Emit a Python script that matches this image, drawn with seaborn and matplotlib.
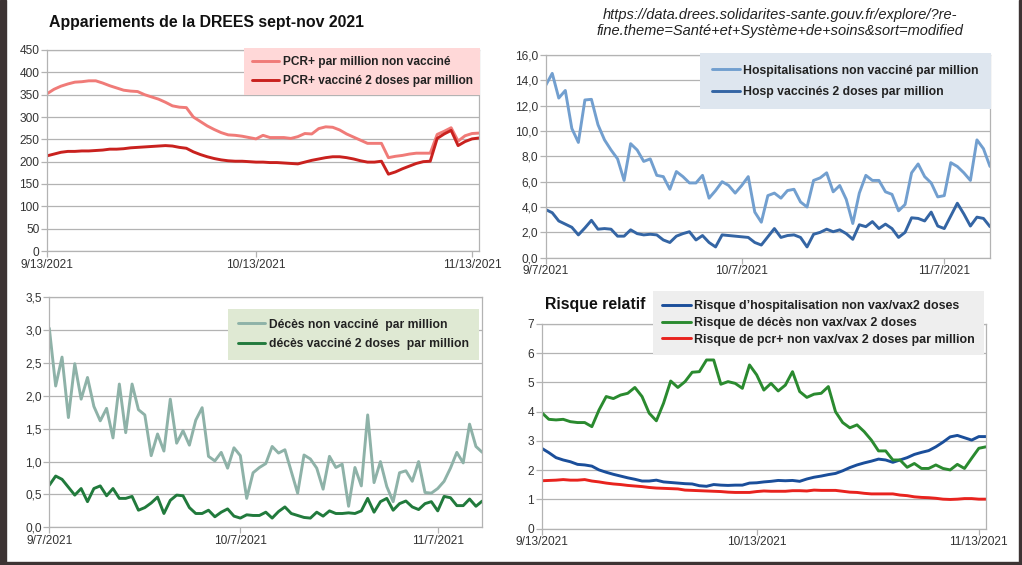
import matplotlib
matplotlib.use("Agg")
import matplotlib.pyplot as plt
import seaborn as sns
import pandas as pd
from matplotlib.patches import Rectangle

# ---------------- data ----------------
pcr_start = "2021-09-13"
pcr_non_vax = [352, 362, 369, 374, 378, 379, 381, 381, 376, 370, 365, 360, 358, 357, 350, 345,
               340, 333, 325, 322, 321, 300, 290, 280, 272, 265, 260, 259, 257, 254, 251, 259,
               254, 254, 254, 252, 256, 263, 262, 274, 278, 277, 271, 262, 255, 248, 241, 241,
               241, 209, 212, 214, 217, 219, 219, 219, 261, 268, 276, 246, 258, 263, 264]
pcr_vax2 = [213, 217, 221, 223, 223, 224, 224, 225, 226, 228, 228, 229, 231, 232, 233, 234,
            235, 236, 235, 232, 230, 222, 216, 211, 207, 204, 202, 201, 201, 200, 199, 199,
            198, 198, 197, 196, 195, 199, 203, 206, 209, 211, 211, 209, 206, 202, 199, 199,
            201, 172, 177, 184, 190, 196, 200, 201, 252, 262, 270, 236, 245, 251, 253]

hosp_start = "2021-09-07"
hosp_non_vax = [13.6, 14.55, 12.6, 13.2, 10.2, 9.1, 12.45, 12.5, 10.5, 9.3, 8.5, 7.8, 6.1, 9.0,
                8.5, 7.6, 7.8, 6.5, 6.4, 5.4, 6.8, 6.4, 5.9, 5.9, 6.5, 4.7, 5.3, 6.0, 5.7, 5.1,
                5.7, 6.4, 3.6, 2.8, 4.9, 5.1, 4.7, 5.3, 5.4, 4.4, 4.0, 6.1, 6.3, 6.7, 5.2, 5.7,
                4.6, 2.7, 5.1, 6.5, 6.1, 6.1, 5.2, 5.0, 3.7, 4.2, 6.7, 7.4, 6.4, 5.9, 4.8, 4.9,
                7.5, 7.2, 6.7, 6.1, 9.3, 8.6, 7.2]
hosp_vax2 = [3.8, 3.55, 2.9, 2.65, 2.4, 1.8, 2.35, 2.95, 2.25, 2.3, 2.25, 1.7, 1.7, 2.2, 1.9,
             1.8, 1.85, 1.8, 1.4, 1.2, 1.7, 1.9, 2.05, 1.4, 1.75, 1.2, 0.85, 1.8, 1.75, 1.7,
             1.65, 1.6, 1.2, 1.0, 1.65, 2.3, 1.6, 1.75, 1.8, 1.6, 0.85, 1.85, 2.0, 2.25, 2.05,
             2.2, 1.9, 1.45, 2.6, 2.45, 2.85, 2.3, 2.65, 2.3, 1.6, 2.0, 3.15, 3.1, 2.9, 3.6,
             2.5, 2.3, 3.3, 4.3, 3.45, 2.5, 3.2, 3.1, 2.45]

deces_non_vax = [3.03, 2.15, 2.59, 1.67, 2.49, 1.95, 2.28, 1.84, 1.62, 1.81, 1.36, 2.18, 1.44,
                 2.18, 1.79, 1.71, 1.09, 1.42, 1.16, 1.95, 1.28, 1.47, 1.25, 1.63, 1.82, 1.08,
                 1.01, 1.14, 0.90, 1.21, 1.09, 0.44, 0.83, 0.91, 0.97, 1.23, 1.13, 1.18, 0.85,
                 0.52, 1.10, 1.04, 0.90, 0.58, 1.08, 0.91, 0.96, 0.32, 0.91, 0.63, 1.71, 0.68,
                 1.00, 0.62, 0.39, 0.83, 0.86, 0.70, 1.00, 0.53, 0.52, 0.59, 0.70, 0.90, 1.14,
                 0.98, 1.57, 1.23, 1.14]
deces_vax2 = [0.64, 0.78, 0.73, 0.61, 0.49, 0.59, 0.39, 0.59, 0.63, 0.48, 0.59, 0.44, 0.44,
              0.47, 0.26, 0.30, 0.37, 0.46, 0.21, 0.41, 0.49, 0.48, 0.30, 0.21, 0.21, 0.26,
              0.16, 0.23, 0.28, 0.17, 0.14, 0.19, 0.18, 0.18, 0.23, 0.14, 0.24, 0.31, 0.21,
              0.18, 0.15, 0.14, 0.23, 0.17, 0.25, 0.21, 0.21, 0.22, 0.21, 0.25, 0.44, 0.23,
              0.39, 0.44, 0.26, 0.36, 0.40, 0.31, 0.27, 0.36, 0.39, 0.25, 0.47, 0.45, 0.33,
              0.33, 0.43, 0.32, 0.40]

risk_start = "2021-09-13"
risk_hosp = [2.75, 2.60, 2.43, 2.35, 2.29, 2.20, 2.18, 2.14, 2.01, 1.93, 1.86, 1.80, 1.74, 1.69,
             1.63, 1.63, 1.66, 1.60, 1.58, 1.56, 1.54, 1.53, 1.47, 1.45, 1.51, 1.49, 1.48, 1.49,
             1.49, 1.56, 1.57, 1.60, 1.62, 1.65, 1.64, 1.65, 1.62, 1.70, 1.76, 1.80, 1.85, 1.89,
             1.98, 2.09, 2.18, 2.25, 2.31, 2.38, 2.35, 2.27, 2.35, 2.43, 2.54, 2.61, 2.67, 2.80,
             2.96, 3.14, 3.19, 3.11, 3.03, 3.15, 3.15]
risk_deces = [3.97, 3.74, 3.72, 3.74, 3.66, 3.63, 3.63, 3.49, 4.06, 4.52, 4.45, 4.57, 4.63, 4.83,
              4.52, 3.95, 3.69, 4.29, 5.05, 4.83, 5.03, 5.35, 5.37, 5.77, 5.77, 4.94, 5.03, 4.97,
              4.80, 5.60, 5.26, 4.74, 4.97, 4.71, 4.91, 5.37, 4.69, 4.49, 4.60, 4.63, 4.86, 4.00,
              3.63, 3.45, 3.55, 3.32, 3.03, 2.66, 2.66, 2.35, 2.35, 2.10, 2.23, 2.06, 2.06, 2.18,
              2.06, 2.01, 2.20, 2.06, 2.41, 2.75, 2.80]
risk_pcr = [1.64, 1.65, 1.66, 1.68, 1.66, 1.66, 1.68, 1.63, 1.60, 1.56, 1.53, 1.51, 1.48, 1.46,
            1.44, 1.41, 1.39, 1.38, 1.37, 1.36, 1.32, 1.31, 1.30, 1.29, 1.28, 1.27, 1.25, 1.24,
            1.24, 1.24, 1.27, 1.29, 1.28, 1.28, 1.28, 1.30, 1.30, 1.29, 1.32, 1.31, 1.31, 1.31,
            1.28, 1.25, 1.24, 1.21, 1.19, 1.19, 1.19, 1.19, 1.15, 1.13, 1.09, 1.07, 1.06, 1.04,
            1.01, 1.00, 1.01, 1.03, 1.03, 1.01, 1.01]

end_date = "2021-11-14"
pcr_xticks = ["2021-09-13", "2021-10-13", "2021-11-13"]
pcr_xticklabels = ["9/13/2021", "10/13/2021", "11/13/2021"]
hosp_xticks = ["2021-09-07", "2021-10-07", "2021-11-07"]
hosp_xticklabels = ["9/7/2021", "10/7/2021", "11/7/2021"]
pcr_yticks = [0, 50, 100, 150, 200, 250, 300, 350, 400, 450]
hosp_yticks = [0, 2, 4, 6, 8, 10, 12, 14, 16]
hosp_yticklabels = ["0,0", "2,0", "4,0", "6,0", "8,0", "10,0", "12,0", "14,0", "16,0"]
deces_yticks = [0, 0.5, 1.0, 1.5, 2.0, 2.5, 3.0, 3.5]
deces_yticklabels = ["0,0", "0,5", "1,0", "1,5", "2,0", "2,5", "3,0", "3,5"]
risk_yticks = [0, 1, 2, 3, 4, 5, 6, 7]

labels_pcr = ["PCR+ par million non vacciné", "PCR+ vacciné 2 doses par million"]
labels_hosp = ["Hospitalisations non vacciné par million", "Hosp vaccinés 2 doses par million"]
labels_deces = ["Décès non vacciné  par million", "décès vacciné 2 doses  par million"]
labels_risk = ["Risque d\u2019hospitalisation non vax/vax2 doses",
               "Risque de décès non vax/vax 2 doses",
               "Risque de pcr+ non vax/vax 2 doses par million"]

# ---------------- style ----------------
sns.set_theme(style="white")
plt.rcParams["font.family"] = ["Liberation Sans", "DejaVu Sans"]

W, H = 1022, 565
fig = plt.figure(figsize=(W / 100, H / 100), dpi=100)
fig.patch.set_facecolor("white")

GRID = "#b3b3b3"
TXT = "#333333"


def px_axes(left, right, top, bottom):
    return fig.add_axes([left / W, 1 - bottom / H, (right - left) / W, (bottom - top) / H])


def style(ax, start, yticks, yticklabels, xticks, xticklabels, ymax):
    ax.set_xlim(pd.Timestamp(start), pd.Timestamp(end_date))
    ax.set_ylim(0, ymax)
    ax.set_yticks(yticks)
    ax.set_yticklabels(yticklabels)
    ax.set_xticks([pd.Timestamp(t) for t in xticks])
    ax.set_xticklabels(xticklabels)
    ax.grid(axis="y", color=GRID, lw=0.9)
    ax.grid(axis="x", visible=False)
    for s in ax.spines.values():
        s.set_color(GRID)
        s.set_linewidth(0.9)
    ax.tick_params(axis="both", which="major", length=4, width=0.9, color=GRID,
                   labelsize=8.6, labelcolor=TXT, pad=1.5, direction="out",
                   bottom=True, left=True)
    ax.set_xlabel("")
    ax.set_ylabel("")


def add_legend(ax, labels, x_left, y_top, bg, spacing, pad=0.7, size=8.7):
    handles = ax.get_lines()[:len(labels)]
    leg = ax.legend(handles, labels, loc="upper left",
                    bbox_to_anchor=(x_left / W, 1 - y_top / H),
                    bbox_transform=fig.transFigure, borderaxespad=0,
                    frameon=True, fancybox=False, facecolor=bg, edgecolor="none",
                    framealpha=1, prop={"weight": "bold", "size": size},
                    labelcolor="#222222", handlelength=2.3, handletextpad=0.3,
                    labelspacing=spacing, borderpad=pad)
    return leg


LW = 2.1

# Panel 1 : PCR+
ax1 = px_axes(47, 479, 50, 251)
d1 = pd.date_range(pcr_start, periods=len(pcr_non_vax), freq="D")
sns.lineplot(x=d1, y=pcr_non_vax, ax=ax1, color="#f07b78", lw=LW)
sns.lineplot(x=d1, y=pcr_vax2, ax=ax1, color="#c9211e", lw=LW)
style(ax1, pcr_start, pcr_yticks, [str(v) for v in pcr_yticks], pcr_xticks, pcr_xticklabels, 450)
add_legend(ax1, labels_pcr, 244, 48, "#ffd8d8", 0.6, pad=0.65, size=8.55)

# Panel 2 : hospitalisations
ax2 = px_axes(545.7, 990, 55, 257.7)
d2 = pd.date_range(hosp_start, periods=len(hosp_non_vax), freq="D")
sns.lineplot(x=d2, y=hosp_non_vax, ax=ax2, color="#729fcf", lw=LW)
sns.lineplot(x=d2, y=hosp_vax2, ax=ax2, color="#3465a4", lw=LW)
style(ax2, hosp_start, hosp_yticks, hosp_yticklabels, hosp_xticks, hosp_xticklabels, 16)
add_legend(ax2, labels_hosp, 700, 53, "#dee6ef", 0.75, pad=0.95, size=8.8)

# Panel 3 : décès
ax3 = px_axes(49.3, 482.3, 297.3, 527.3)
d3 = pd.date_range(hosp_start, periods=len(deces_non_vax), freq="D")
sns.lineplot(x=d3, y=deces_non_vax, ax=ax3, color="#8eb2a8", lw=LW)
sns.lineplot(x=d3, y=deces_vax2, ax=ax3, color="#217a3c", lw=LW)
style(ax3, hosp_start, deces_yticks, deces_yticklabels, hosp_xticks, hosp_xticklabels, 3.5)
add_legend(ax3, labels_deces, 228, 309, "#dfe9d3", 0.6, pad=0.8)

# Panel 4 : risque relatif
ax4 = px_axes(541.7, 986, 324, 528.7)
d4 = pd.date_range(risk_start, periods=len(risk_hosp), freq="D")
sns.lineplot(x=d4, y=risk_hosp, ax=ax4, color="#1a4e9a", lw=LW)
sns.lineplot(x=d4, y=risk_deces, ax=ax4, color="#2a8a2f", lw=LW)
sns.lineplot(x=d4, y=risk_pcr, ax=ax4, color="#e8231e", lw=LW)
style(ax4, risk_start, risk_yticks, [str(v) for v in risk_yticks], pcr_xticks, pcr_xticklabels, 7)
add_legend(ax4, labels_risk, 653, 291, "#eeeeee", 0.38, pad=0.75, size=8.9)

# Titles
fig.text(49 / W, 1 - 23 / H, "Appariements de la DREES sept-nov 2021", ha="left", va="center",
         fontsize=11.4, fontweight="bold", color="#111111")
fig.text(780 / W, 1 - 15 / H, "https://data.drees.solidarites-sante.gouv.fr/explore/?re-",
         ha="center", va="center", fontsize=10.5, style="italic", color="#222222")
fig.text(780 / W, 1 - 31 / H, "fine.theme=Santé+et+Système+de+soins&sort=modified",
         ha="center", va="center", fontsize=10.5, style="italic", color="#222222")
fig.text(545 / W, 1 - 304 / H, "Risque relatif", ha="left", va="center",
         fontsize=11.4, fontweight="bold", color="#111111")

# dark screenshot frame
DARK = "#3d3434"
fig.patches.append(Rectangle((0, 0), 6 / W, 1, transform=fig.transFigure, color=DARK, zorder=10))
fig.patches.append(Rectangle((0, 0), 1, 3.5 / H, transform=fig.transFigure, color=DARK, zorder=10))
fig.patches.append(Rectangle((1 - 3 / W, 0), 3 / W, 1, transform=fig.transFigure, color=DARK, zorder=10))

fig.savefig("out.png", dpi=100)
